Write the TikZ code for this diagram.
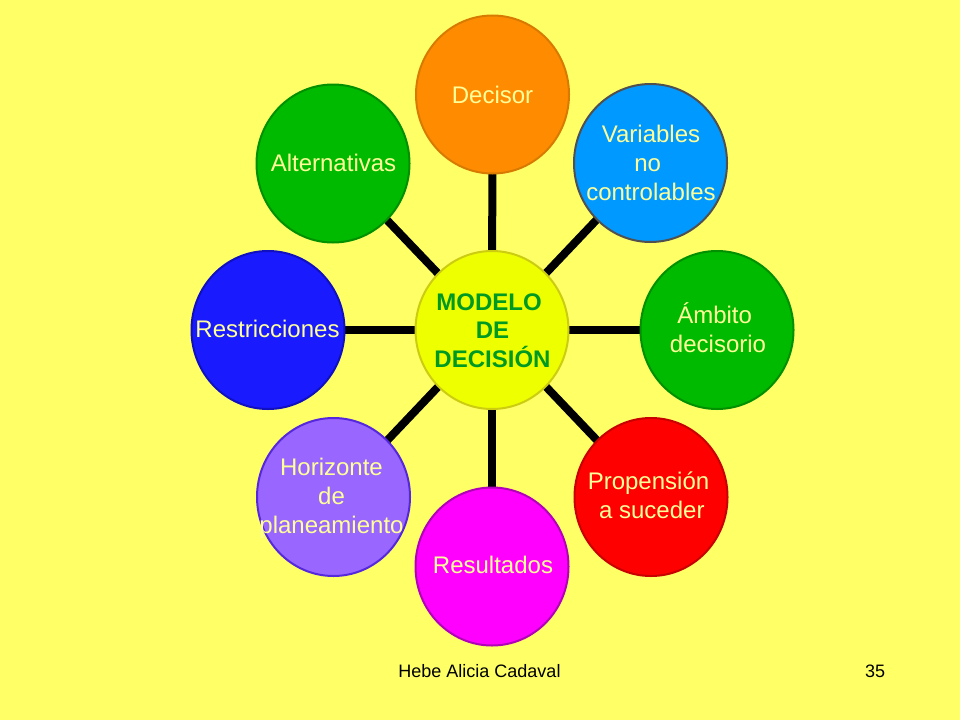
\documentclass[tikz,border=0pt]{standalone}
\usepackage{fontspec}
\setmainfont{Liberation Sans}
\usetikzlibrary{shapes.geometric,backgrounds}
\definecolor{bg}{HTML}{FFFF66}
\definecolor{txt}{HTML}{FFFF99}
\definecolor{mtxt}{HTML}{009922}
\definecolor{mfill}{HTML}{EEFF00}
\definecolor{mdraw}{HTML}{CCCC11}
\definecolor{orfill}{HTML}{FF8C00}
\definecolor{ordraw}{HTML}{D97A00}
\definecolor{blfill}{HTML}{0099FF}
\definecolor{bldraw}{HTML}{505050}
\definecolor{grfill}{HTML}{00BA00}
\definecolor{grdraw}{HTML}{009000}
\definecolor{rdfill}{HTML}{FF0000}
\definecolor{rddraw}{HTML}{C80000}
\definecolor{mgfill}{HTML}{FF00FF}
\definecolor{mgdraw}{HTML}{B000B8}
\definecolor{vifill}{HTML}{9966FF}
\definecolor{vidraw}{HTML}{5528DD}
\definecolor{dbfill}{HTML}{1A1AFF}
\definecolor{dbdraw}{HTML}{1010C0}
\begin{document}
\begin{tikzpicture}[x=1pt,y=-1pt,
  bub/.style={ellipse,minimum width=153pt,minimum height=158pt,inner sep=0pt,line width=2pt},
  lbl/.style={align=center,font=\fontsize{24}{28.8}\selectfont,text=txt,inner sep=0pt},
  mlbl/.style={align=center,font=\bfseries\fontsize{24}{28.8}\selectfont,text=mtxt,inner sep=0pt},
  foot/.style={font=\fontsize{18}{21.6}\selectfont,text=black,inner sep=0pt,anchor=base},
  conn/.style={line width=8pt,black}]
\useasboundingbox (0,0) rectangle (960,720);
% bubbles
\node[bub,fill=mfill,draw=mdraw] (m) at (492,330) {};
\node[bub,fill=orfill,draw=ordraw] (d) at (492.5,94.5) {};
\node[bub,fill=blfill,draw=bldraw] (v) at (650.5,163) {};
\node[bub,fill=grfill,draw=grdraw] (a) at (717,330) {};
\node[bub,fill=rdfill,draw=rddraw] (p) at (651,497) {};
\node[bub,fill=mgfill,draw=mgdraw] (r) at (492,566.5) {};
\node[bub,fill=vifill,draw=vidraw] (h) at (333.5,497) {};
\node[bub,fill=dbfill,draw=dbdraw] (s) at (268,330) {};
\node[bub,fill=grfill,draw=grdraw] (l) at (333,163.5) {};
% background and connectors
\begin{scope}[on background layer]
  \fill[bg] (0,0) rectangle (960,720);
  \foreach \n in {d,v,a,p,r,h,s,l}
    \draw[conn] (m.center) -- (\n.center);
\end{scope}
% labels
\node[mlbl] (tm) at (492.5,330.7) {MODELO\rule{6.7pt}{0pt}\\DE\\DECISIÓN};
\node[lbl] (td) at (492.5,94.5) {Decisor};
\node[lbl] (tv) at (651,162.7) {Variables\\no\rule{6.7pt}{0pt}\\controlables};
\node[lbl] (ta) at (718,327.6) {Ámbito\rule{6.7pt}{0pt}\\decisorio};
\node[lbl] (tp) at (648.5,495.5) {Propensión\\\rule{6.7pt}{0pt}a suceder};
\node[lbl] (tr) at (493,565.3) {Resultados};
\node[lbl] (th) at (331.5,498.5) {Horizonte\\de\\planeamiento};
\node[lbl] (ts) at (267.5,329.3) {Restricciones};
\node[lbl] (tl) at (333.5,163.3) {Alternativas};
% footer
\node[foot] (f1) at (479.5,677) {Hebe Alicia Cadaval};
\node[foot] (f2) at (875,677) {35};
\end{tikzpicture}
\end{document}
